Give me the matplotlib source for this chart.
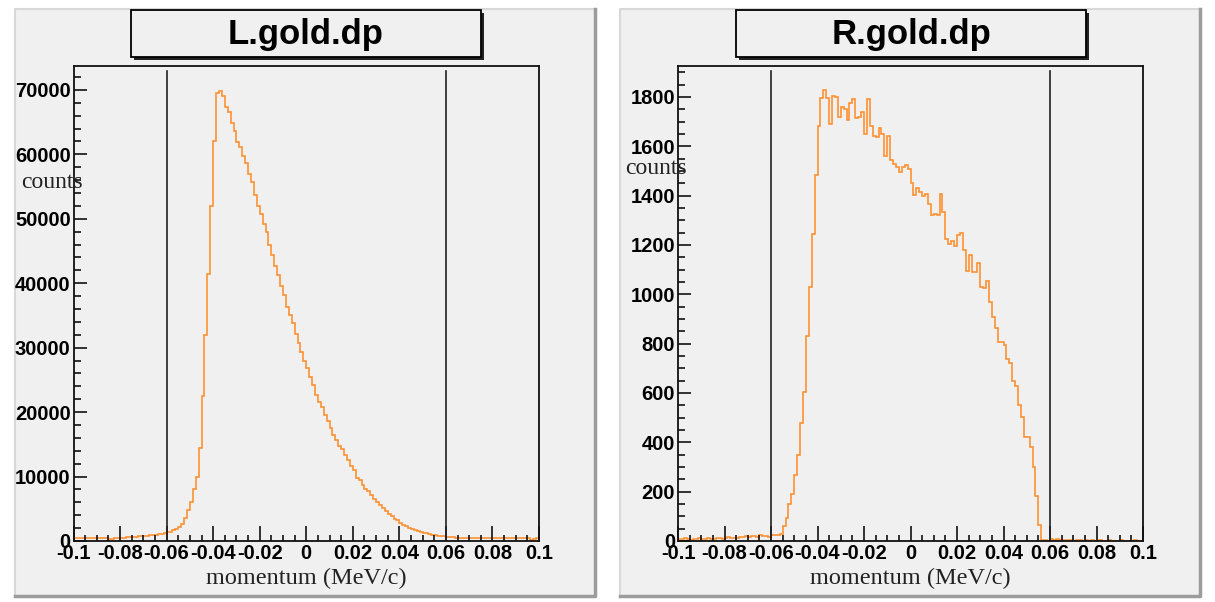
import numpy as np
import matplotlib.pyplot as plt
from matplotlib.patches import Rectangle
from matplotlib.lines import Line2D
from matplotlib.ticker import FixedLocator, MultipleLocator

W, H = 1215, 602

# histogram range / cut lines
xlo, xhi = -0.1, 0.1
nbins = 160
cuts = [-0.06, 0.06]

titles = ['L.gold.dp', 'R.gold.dp']
xtitle = 'momentum (MeV/c)'
ytitle = 'counts'

xticks = [-0.1, -0.08, -0.06, -0.04, -0.02, 0, 0.02, 0.04, 0.06, 0.08, 0.1]
xtick_labels = ['-0.1', '-0.08', '-0.06', '-0.04', '-0.02', '0',
                '0.02', '0.04', '0.06', '0.08', '0.1']
left_yticks = [0, 10000, 20000, 30000, 40000, 50000, 60000, 70000]
right_yticks = [0, 200, 400, 600, 800, 1000, 1200, 1400, 1600, 1800]

# counts per bin
left_counts = [
    420, 410, 430, 400, 410, 420, 400, 410, 420, 410, 400, 410,
    280, 300,
    520, 530, 540, 540, 550, 560, 580, 600,
    700, 720, 740, 780,
    860, 900, 950,
    1100, 1150, 1200,
    1350, 1450,
    1650, 1900, 2200, 2700, 3500, 4800, 6100, 8100, 9900, 14500,
    22500, 31900, 41400, 52000, 62000, 69500, 69800, 69100,
    67300, 66600, 64840, 63650, 61950, 61070, 59780, 58650, 56940, 55750,
    53690, 51930, 50740, 49190, 47900, 45930, 44380, 42730, 41280, 39630,
    38180, 36270, 35080, 33840, 32130, 30740, 29290, 28000, 26800, 25400,
    24200, 22700, 21550, 20800, 19500, 18550, 17500, 16400, 15600, 14800,
    14200, 13300, 12500, 11700, 10950, 9770, 9400, 8730, 8110, 7700,
    7080, 6560, 6050, 5530, 5120, 4600, 4240, 3830, 3460, 3200,
    2840, 2530, 2330, 2020, 1810, 1650, 1500, 1400, 1300, 1240,
    1100, 980, 880, 800, 720, 700, 650, 600, 570,
    520, 500, 480, 470, 470, 460, 450, 450, 440,
    430, 420, 420, 410, 420, 410, 400, 410, 400, 400,
    410, 400, 390, 400, 400, 390, 400, 180, 380, 390,
]

right_counts = [
    10, 8, 12, 10, 6, 8, 10, 12, 8, 10, 12,
    8, 10, 14, 12, 10, 12, 16, 14, 12, 14,
    18, 16, 20, 18, 22, 20, 18, 24, 20, 22, 16,
    24, 24, 26,
    30, 61, 93, 150, 191, 268, 350, 480, 602, 829, 1028, 1245, 1483, 1682,
    1794, 1827,
    1794, 1689, 1804, 1800, 1718, 1759, 1750, 1705, 1777, 1793,
    1713, 1718, 1740, 1648, 1793, 1682, 1641, 1637, 1675, 1651,
    1560, 1641, 1543, 1526, 1515, 1496, 1515, 1524, 1506, 1452,
    1404, 1431, 1415, 1398, 1406, 1364, 1320, 1326, 1323, 1407,
    1334, 1222, 1204, 1215, 1195, 1239, 1249, 1181, 1093, 1161,
    1090, 1090, 1127, 1028, 1025, 1052, 968, 906,
    865, 808, 808, 795, 738, 721, 649, 630, 551, 504, 422, 422, 381, 300,
    182, 66,
    4, 6, 2, 8, 4, 10, 3, 5, 2, 4, 3, 2, 4, 3, 2, 3, 2, 3, 2, 2,
    3, 2, 2, 3, 2, 2, 2, 3, 2, 2, 2, 2, 3, 2, 2,
]

PANEL = '#f0f0f0'
ORANGE = '#ff9033'
SANS = 'Liberation Sans'
SERIF = 'Liberation Serif'


def fx(x):
    return x / W


def fy(y):
    return 1 - y / H


fig = plt.figure(figsize=(W / 100, H / 100), dpi=100, facecolor='white')


def draw_pad(x0, x1, y0, y1):
    fig.patches.append(Rectangle((fx(x0), fy(y1)), fx(x1 - x0), (y1 - y0) / H,
                                 transform=fig.transFigure, facecolor=PANEL,
                                 edgecolor='none', zorder=-3))
    # bevel: light top/left, dark right/bottom
    fig.lines.append(Line2D([fx(x0), fx(x0), fx(x1)], [fy(y1), fy(y0), fy(y0)],
                            transform=fig.transFigure, color='#d8d8d8', lw=1.5,
                            zorder=-2))
    fig.lines.append(Line2D([fx(x0), fx(x1), fx(x1)], [fy(y1), fy(y1), fy(y0)],
                            transform=fig.transFigure, color='#9c9c9c', lw=2.5,
                            zorder=-2))


def draw_title(text, x0, x1, y0, y1):
    d = 3
    fig.patches.append(Rectangle((fx(x0 + d), fy(y1 + d)), fx(x1 - x0), (y1 - y0) / H,
                                 transform=fig.transFigure, facecolor='#222222',
                                 edgecolor='none', zorder=1))
    fig.patches.append(Rectangle((fx(x0), fy(y1)), fx(x1 - x0), (y1 - y0) / H,
                                 transform=fig.transFigure, facecolor=PANEL,
                                 edgecolor='black', lw=1.3, zorder=2))
    fig.text(fx((x0 + x1) / 2), fy((y0 + y1) / 2 + 1), text, ha='center', va='center',
             family=SANS, weight='bold', fontsize=25, zorder=3)


def draw_hist(counts, yticks, ymax, minor_y, ax_px):
    x0, x1, y0, y1 = ax_px
    ax = fig.add_axes([fx(x0), fy(y1), fx(x1 - x0), (y1 - y0) / H])
    ax.set_facecolor('none')
    edges = np.linspace(xlo, xhi, nbins + 1)
    ax.stairs(counts, edges, color=ORANGE, lw=1.2, baseline=None)
    for c in cuts:
        ax.axvline(c, ymin=0, ymax=0.99, color='#222222', lw=1.2)
    ax.set_xlim(xlo, xhi)
    ax.set_ylim(0, ymax)

    ax.xaxis.set_major_locator(FixedLocator(xticks))
    ax.set_xticklabels(xtick_labels)
    ax.xaxis.set_minor_locator(MultipleLocator(0.005))
    ax.yaxis.set_major_locator(FixedLocator(yticks))
    ax.set_yticklabels([str(v) for v in yticks])
    ax.yaxis.set_minor_locator(MultipleLocator(minor_y))

    ax.tick_params(which='both', direction='in', top=False, right=False,
                   color='#111111', width=1.2)
    ax.tick_params(axis='x', which='major', length=11, pad=2)
    ax.tick_params(axis='x', which='minor', length=4.5)
    ax.tick_params(axis='y', which='major', length=9.5, pad=2)
    ax.tick_params(axis='y', which='minor', length=5)
    for lab in ax.get_xticklabels() + ax.get_yticklabels():
        lab.set_family(SANS)
        lab.set_weight('bold')
        lab.set_fontsize(14.5)
    for s in ax.spines.values():
        s.set_linewidth(1.3)
        s.set_color('#111111')

    fig.text(fx((x0 + x1) / 2), fy(578), xtitle, ha='center', va='center',
             family=SERIF, fontsize=17.5, color='#222222')
    return ax


# left pad
draw_pad(15, 595, 9, 596)
draw_title(titles[0], 131, 481, 10, 57)
draw_hist(left_counts, left_yticks, 73700, 2000, (73.5, 539, 66, 541))
fig.text(fx(52), fy(183), ytitle, ha='center', va='center', family=SERIF,
         fontsize=17, color='#222222')

# right pad
draw_pad(620, 1200, 9, 596)
draw_title(titles[1], 736, 1086, 10, 57)
draw_hist(right_counts, right_yticks, 1925, 50, (678, 1143, 66, 541))
fig.text(fx(656), fy(168), ytitle, ha='center', va='center', family=SERIF,
         fontsize=17, color='#222222')

fig.savefig('out.png', dpi=100, facecolor='white')
